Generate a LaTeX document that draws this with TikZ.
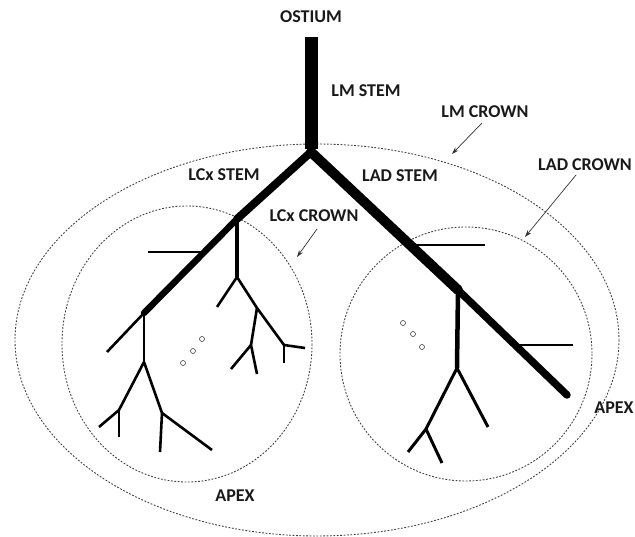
\documentclass[tikz,border=0pt]{standalone}
\usepackage{fontspec}
\setmainfont{Carlito}
\usetikzlibrary{arrows.meta}

\begin{document}
\begin{tikzpicture}[
    x=1pt, y=-1pt,
    vessel/.style={draw=black, line cap=butt},
    crown/.style={draw=black!75, line width=0.9pt, dash pattern=on 1.8pt off 1.6pt},
    tag/.style={font=\fontsize{18}{21}\selectfont\bfseries, text=black!90, inner sep=1pt},
    pointer/.style={draw=black!80, line width=0.7pt, -{Stealth[length=7pt,width=4.5pt]}},
    spot/.style={draw=black!75, line width=0.6pt, fill=white}
]
\useasboundingbox (0,0) rectangle (635,537);

% Crowns
\draw[crown] (317,340) ellipse [x radius=302, y radius=196];
\draw[crown] (187,344) ellipse [x radius=125, y radius=138];
\draw[crown] (466,354) ellipse [x radius=126, y radius=127];

% Main points of the tree
\coordinate (ost) at (311,37);
\coordinate (bif) at (311,152);
\coordinate (cx1) at (237,219);
\coordinate (cx2) at (204,252);
\coordinate (cx3) at (144,313);
\coordinate (ad1) at (411,245);
\coordinate (ad2) at (458,290);
\coordinate (ad3) at (515,345);
\coordinate (ad4) at (567,395);

% LM stem
\draw[vessel, line width=13pt] (ost) -- ([yshift=3pt]bif);

% LAD
\draw[vessel, line width=10pt, line cap=round] (bif) -- (ad2);
\draw[vessel, line width=7.5pt, line cap=round] (ad2) -- (ad4);
\draw[vessel, line width=2.6pt] (ad1) -- (485,245);
\draw[vessel, line width=2.6pt] (ad3) -- (573,345);
\coordinate (ad5) at (457,368);
\coordinate (ad6) at (426,429);
\draw[vessel, line width=4.5pt] (ad2) -- (ad5);
\draw[vessel, line width=3pt, line join=round] (ad5) -- (ad6) -- (408,452);
\draw[vessel, line width=3pt] (ad5) -- (488,427);
\draw[vessel, line width=3pt] (ad6) -- (442,463);

% LCx
\draw[vessel, line width=8pt, line cap=round] (bif) -- (cx1);
\draw[vessel, line width=6.5pt, line cap=round] (cx1) -- (cx3);
\draw[vessel, line width=2.6pt] (cx2) -- (148,252);
\draw[vessel, line width=2.6pt] (cx3) -- (107,352);

% LCx upper side branches
\coordinate (cx4) at (237,277);
\coordinate (cx5) at (257,308);
\coordinate (cx6) at (251,345);
\coordinate (cx7) at (284,345);
\draw[vessel, line width=3.5pt] (cx1) -- (cx4);
\draw[vessel, line width=2.6pt] (cx4) -- (217,307);
\draw[vessel, line width=2.6pt, line join=round] (cx4) -- (cx5) -- (cx7);
\draw[vessel, line width=2.6pt] (cx5) -- (cx6);
\draw[vessel, line width=2.6pt] (cx6) -- (231,369);
\draw[vessel, line width=2.6pt] (cx6) -- (257,374);
\draw[vessel, line width=2.6pt] (cx7) -- (305,348);
\draw[vessel, line width=2.6pt] (cx7) -- (284,363);

% LCx lower branches
\coordinate (cx8) at (144,362);
\coordinate (cx9) at (119,410);
\coordinate (cx10) at (162,413);
\draw[vessel, line width=2.6pt] (cx3) -- (cx8);
\draw[vessel, line width=2.6pt] (cx8) -- (cx9);
\draw[vessel, line width=2.6pt] (cx8) -- (cx10);
\draw[vessel, line width=2.6pt] (cx9) -- (99,427);
\draw[vessel, line width=2.6pt] (cx9) -- (119,437);
\draw[vessel, line width=2.6pt] (cx10) -- (160,452);
\draw[vessel, line width=2.6pt] (cx10) -- (212,450);

% Dots
\foreach \p in {(202,339),(193,351),(183,363),(403,323),(413,334),(422,347)}
    \draw[spot] \p circle (2.5pt);

% Labels
\node[tag] (ostium) at (311,17) {OSTIUM};
\node[tag] (lmstem) at (366,91) {LM STEM};
\node[tag] (lmcrown) at (485,112) {LM CROWN};
\node[tag] (ladcrown) at (585,165) {LAD CROWN};
\node[tag] (lcxstem) at (224,175) {LCx STEM};
\node[tag] (ladstem) at (400,176) {LAD STEM};
\node[tag] (lcxcrown) at (314,216) {LCx CROWN};
\node[tag] (apexl) at (235,496) {APEX};
\node[tag] (apexr) at (614,408) {APEX};

% Pointers
\coordinate (lmtip) at (452,154);
\coordinate (ladtip) at (525,237);
\coordinate (lcxtip) at (297,257);
\draw[pointer] (482,123) -- (lmtip);
\draw[pointer] (576,175) -- (ladtip);
\draw[pointer] (317,229) -- (lcxtip);

\end{tikzpicture}
\end{document}
